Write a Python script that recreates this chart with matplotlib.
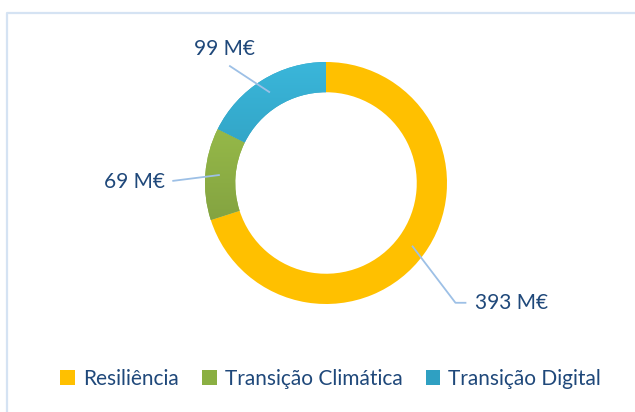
import numpy as np
import matplotlib
matplotlib.use('Agg')
import matplotlib.pyplot as plt
from matplotlib.patches import Patch
from matplotlib.lines import Line2D

# Data
categories = ['Resiliência', 'Transição Climática', 'Transição Digital']
values = [393, 69, 99]
labels = ['393 M€', '69 M€', '99 M€']

colors = ['#FFC000', '#8AAF42', '#2FA0C2']
grad = [None, ('#A2C84E', '#74903A'), ('#3AB6DA', '#2587A4')]
text_color = '#1F487A'
leader_color = '#9DC0E6'

plt.rcParams['font.family'] = ['Lato', 'DejaVu Sans']

W, H = 635, 412
fig = plt.figure(figsize=(W / 100, H / 100), dpi=100)
ax = fig.add_axes([0, 0, 1, 1])
cx, cy, R = 326, 183, 121

wedges, _ = ax.pie(values, colors=colors, startangle=90, counterclock=False,
                   radius=1.0, wedgeprops=dict(width=0.25, edgecolor='none'))

# vertical gradients on green and blue segments
for w, g in zip(wedges, grad):
    if g is None:
        continue
    c1 = np.array(matplotlib.colors.to_rgb(g[0]))
    c2 = np.array(matplotlib.colors.to_rgb(g[1]))
    t = np.linspace(0, 1, 256)[:, None]
    img = (c1 * (1 - t) + c2 * t)[:, None, :]
    im = ax.imshow(img, extent=(-1, 1, -1, 1), origin='upper',
                   aspect='auto', zorder=w.get_zorder() + 0.1)
    im.set_clip_path(w)

# leader lines and labels
total = sum(values)
ang = 90.0
mids = []
for v in values:
    span = 360.0 * v / total
    mids.append(np.deg2rad(ang - span / 2))
    ang -= span

rmid = 0.88
# (elbow points, text pos, ha)
layout = [
    ([(1.07, -0.99), (1.16, -0.99)], (1.23, -0.99), 'left'),
    ([(-1.27, 0.017)], (-1.33, 0.005), 'right'),
    ([(-0.80, 0.97)], (-0.84, 1.11), 'center'),
]
for m, lab, (pts, tp, ha) in zip(mids, labels, layout):
    xs = [rmid * np.cos(m)] + [p[0] for p in pts]
    ys = [rmid * np.sin(m)] + [p[1] for p in pts]
    ax.plot(xs, ys, color=leader_color, lw=1.3, zorder=5, solid_capstyle='butt')
    ax.text(tp[0], tp[1], lab, ha=ha, va='center', fontsize=15,
            color=text_color)

ax.set_xlim(-cx / R, (W - cx) / R)
ax.set_ylim(-(H - cy) / R, cy / R)
ax.set_aspect('equal')
ax.axis('off')

# legend
handles = [Patch(facecolor=c, edgecolor='none') for c in colors]
fig.legend(handles, categories, loc='center', bbox_to_anchor=(0.521, 0.08),
           ncol=3, frameon=False, fontsize=15, labelcolor=text_color,
           handlelength=0.7, handleheight=0.7, handletextpad=0.4,
           columnspacing=1.1)

# outer frame (top and left visible)
fx, fy = 7 / W, 1 - 12.5 / H
fig.add_artist(Line2D([fx, fx, 1], [0, fy, fy], transform=fig.transFigure,
                      color='#D5E3F3', lw=1.6))

fig.savefig('out.png', dpi=100)
